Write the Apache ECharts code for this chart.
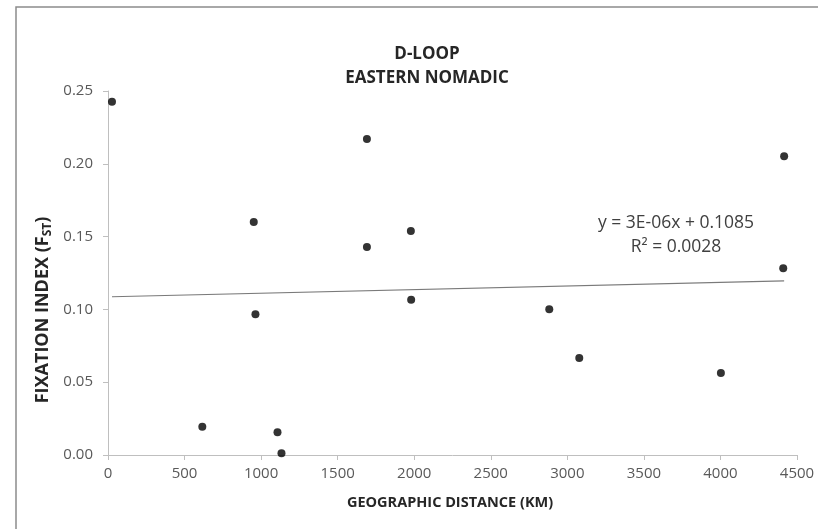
<!DOCTYPE html>
<html>
<head>
<meta charset="utf-8">
<script src="https://cdn.jsdelivr.net/npm/echarts@6/dist/echarts.min.js"></script>
<style>
  html, body { margin: 0; padding: 0; background: #fff; }
  #chart { width: 818px; height: 529px; }
</style>
</head>
<body>
<div id="chart"></div>
<script>
// distance (km) vs Fst
const distances = [26, 1691, 952, 1691, 1978, 963, 1980, 616, 1107, 1133, 4416, 4410, 2882, 3078, 4003]
const fstValues = [0.2427, 0.217, 0.160, 0.1429, 0.1538, 0.0966, 0.1067, 0.0194, 0.0156, 0.0012, 0.2051, 0.1283, 0.1001, 0.0666, 0.0564]
// linear trendline ends as drawn
const trendX = [26, 4416]
const trendY = [0.1087, 0.1196]
const xTicks = { min: 0, max: 4500, interval: 500 }
const yTicks = { min: 0, max: 0.25, interval: 0.05 }
const equationLines = ['y = 3E-06x + 0.1085', 'R² = 0.0028']

const font = '"Open Sans", "Liberation Sans", sans-serif'
const axisGrey = '#bfbfbf'
const labelGrey = '#595959'

const chart = echarts.init(document.getElementById('chart'), null, { renderer: 'canvas' })

chart.setOption({
  animation: false,
  backgroundColor: '#fff',
  title: {
    text: 'D-LOOP\nEASTERN NOMADIC',
    left: 422,
    top: 37,
    textAlign: 'center',
    textStyle: {
      fontFamily: font,
      fontSize: 17,
      fontWeight: 'bold',
      color: '#262626',
      lineHeight: 24
    }
  },
  grid: {
    left: 108,
    right: 21,
    top: 91,
    bottom: 74
  },
  xAxis: {
    type: 'value',
    min: xTicks.min,
    max: xTicks.max,
    interval: xTicks.interval,
    axisLine: { show: true, lineStyle: { color: axisGrey, width: 1 } },
    axisTick: { show: true, length: 5, lineStyle: { color: axisGrey } },
    splitLine: { show: false },
    axisLabel: {
      margin: 11,
      fontFamily: font,
      fontSize: 15,
      color: labelGrey,
      formatter: v => String(v)
    }
  },
  yAxis: {
    type: 'value',
    min: yTicks.min,
    max: yTicks.max,
    interval: yTicks.interval,
    axisLine: { show: true, lineStyle: { color: axisGrey, width: 1 } },
    axisTick: { show: true, length: 5, lineStyle: { color: axisGrey } },
    splitLine: { show: false },
    axisLabel: {
      margin: 15,
      fontFamily: font,
      fontSize: 15,
      color: labelGrey,
      formatter: v => v.toFixed(2)
    }
  },
  graphic: [
    {
      type: 'rect',
      shape: { x: 16, y: 7, width: 900, height: 700 },
      style: { fill: 'none', stroke: '#8c8c8c', lineWidth: 1.5 },
      silent: true
    },
    {
      type: 'text',
      x: 450,
      y: 503,
      style: {
        text: 'GEOGRAPHIC DISTANCE (KM)',
        font: 'bold 14.5px ' + font,
        fill: '#262626',
        align: 'center',
        verticalAlign: 'middle'
      }
    },
    {
      type: 'text',
      x: 43,
      y: 310,
      rotation: Math.PI / 2,
      style: {
        text: '{a|FIXATION INDEX (F}{s|ST}{a|)}',
        align: 'center',
        verticalAlign: 'middle',
        rich: {
          a: { font: 'bold 18px ' + font, fill: '#262626', lineHeight: 22, verticalAlign: 'middle' },
          s: { font: 'bold 12px ' + font, fill: '#262626', lineHeight: 22, verticalAlign: 'bottom' }
        }
      }
    },
    {
      type: 'text',
      x: 676,
      y: 235,
      style: {
        text: equationLines.join('\n'),
        font: '17.5px ' + font,
        fill: '#404040',
        align: 'center',
        verticalAlign: 'middle',
        lineHeight: 24
      }
    }
  ],
  series: [
    {
      type: 'scatter',
      symbol: 'circle',
      symbolSize: 8,
      itemStyle: { color: '#000' },
      data: distances.map((d, i) => [d, fstValues[i]]),
      z: 3
    },
    {
      type: 'line',
      showSymbol: false,
      symbol: 'none',
      lineStyle: { color: '#7a7a7a', width: 1.2 },
      data: trendX.map((d, i) => [d, trendY[i]]),
      z: 2
    }
  ]
})
</script>
</body>
</html>
